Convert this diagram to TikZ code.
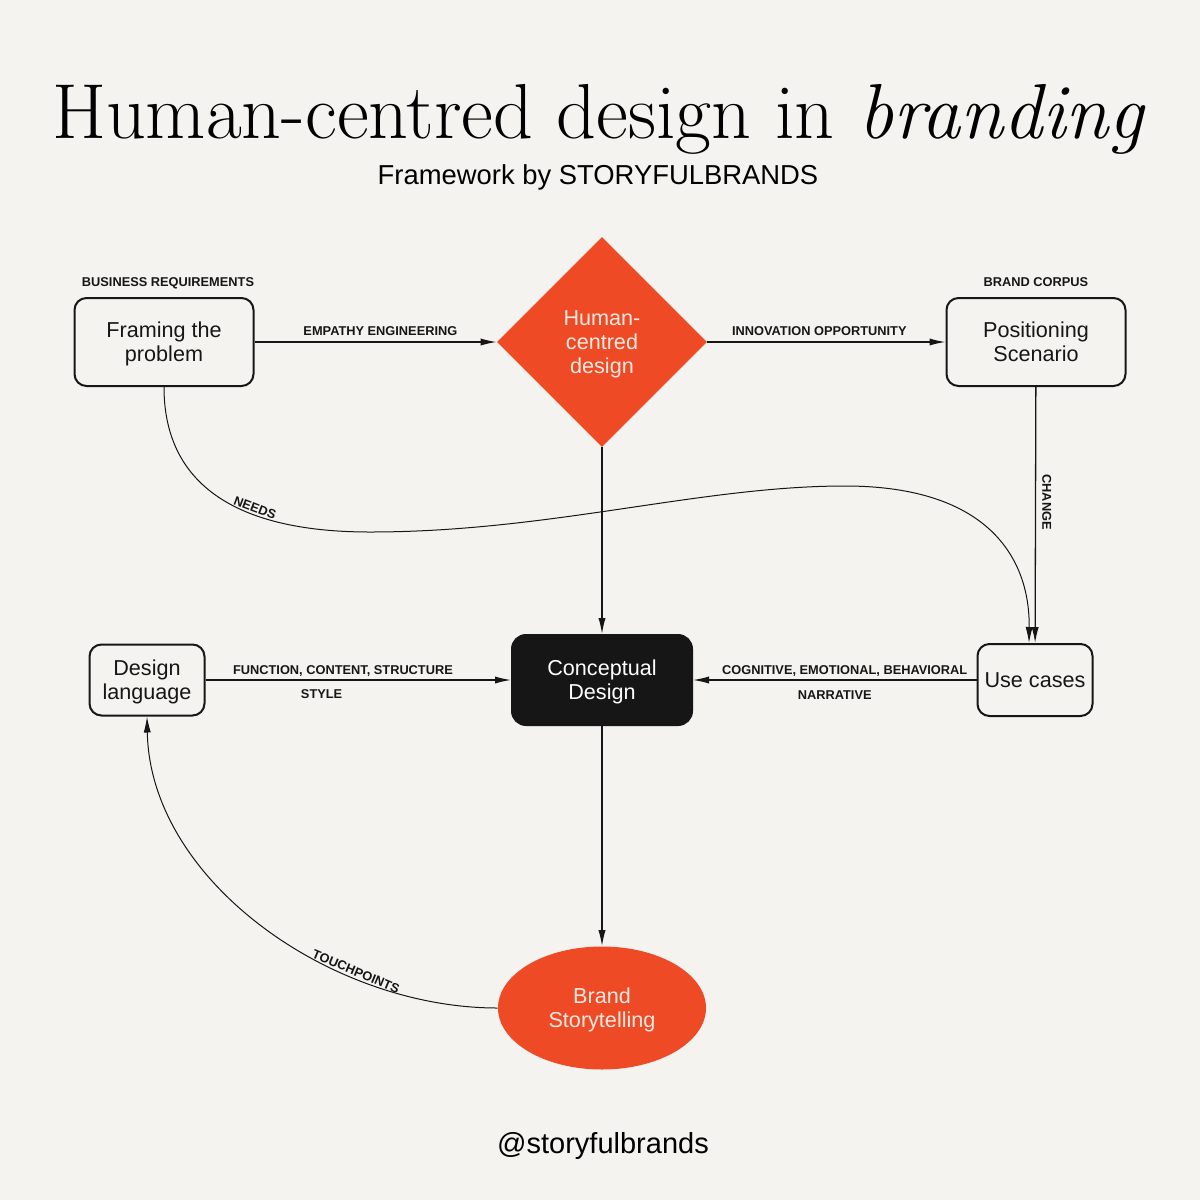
\documentclass[tikz,border=0pt]{standalone}
\usepackage{fontspec}
\setsansfont{Liberation Sans}
\usetikzlibrary{positioning,shapes.geometric,arrows.meta}
\definecolor{paper}{HTML}{F4F3EF}
\definecolor{brandred}{HTML}{EE4A25}
\definecolor{ink}{HTML}{161616}
\definecolor{cream}{HTML}{FBEAE2}

\begin{document}
\begin{tikzpicture}[x=0.5pt, y=-0.5pt,
  box/.style={draw=ink, line width=1pt, rounded corners=6pt, align=center, text=ink, inner sep=0pt,
    text depth=-5.5pt, font=\sffamily\fontsize{10.8}{12}\selectfont},
  core/.style={box, fill=ink, text=white, rounded corners=7pt},
  hub/.style={diamond, aspect=1, fill=brandred, minimum size=105pt, inner sep=0pt, align=center,
    text depth=-5.5pt, text=cream, font=\sffamily\fontsize{10.8}{12}\selectfont},
  story/.style={ellipse, fill=brandred, minimum width=104pt, minimum height=61.5pt, inner sep=0pt,
    text depth=-5.5pt, align=center, text=cream, font=\sffamily\fontsize{10.8}{12}\selectfont},
  lbl/.style={font=\sffamily\bfseries\fontsize{6.4}{7}\selectfont, text=ink, inner sep=1.5pt},
  link/.style={draw=ink, line width=0.65pt, -{Latex[length=8pt,width=3.6pt]}},
  curvelink/.style={link, line width=0.5pt}]
  % canvas
  \fill[paper] (0,0) rectangle (1200,1200);
  \useasboundingbox (0,0) rectangle (1200,1200);
  % heading
  \node[anchor=base, font=\fontsize{39}{43}\selectfont] (title) at (599,138)
    {Human-centred design in \textit{branding}};
  \node[anchor=base, font=\sffamily\fontsize{13.7}{16}\selectfont] (sub) at (598,184)
    {Framework by STORYFULBRANDS};
  % nodes
  \node[box, minimum width=89.5pt, minimum height=44pt] (fr)  at (164,342)  {Framing the\\problem};
  \node[hub]                                           (hcd) at (602,342)  {Human-\\centred\\design};
  \node[box, minimum width=89.5pt, minimum height=44pt] (pos) at (1036,342) {Positioning\\Scenario};
  \node[box, minimum width=57.5pt, minimum height=35.5pt] (dl) at (147,680)  {Design\\language};
  \node[core, minimum width=90pt, minimum height=45pt]  (cd)  at (602,680)  {Conceptual\\Design};
  \node[box, minimum width=57.5pt, minimum height=36pt] (uc)  at (1035,680) {Use cases};
  \node[story]                                         (bs)  at (602,1008) {Brand\\Storytelling};
  % headers
  \node[lbl, above=2.5pt of fr, xshift=2pt] {BUSINESS REQUIREMENTS};
  \node[lbl, above=3.5pt of pos] {BRAND CORPUS};
  % edges
  \draw[link] (fr) -- node[lbl, above=1.5pt, pos=0.52] {EMPATHY ENGINEERING} (hcd);
  \draw[link] (hcd) -- node[lbl, above=1.5pt, pos=0.47] {INNOVATION OPPORTUNITY} (pos);
  \draw[link] (hcd) -- (cd);
  \draw[link] (pos) -- node[lbl, rotate=-90, anchor=south, pos=0.45, inner sep=3pt] {CHANGE} (uc);
  \draw[link] (dl) -- node[lbl, above=0pt, pos=0.45] {FUNCTION, CONTENT, STRUCTURE}
                      node[lbl, below=3pt, pos=0.38] {STYLE} (cd);
  \draw[link] (uc) -- node[lbl, above=0pt, pos=0.465] {COGNITIVE, EMOTIONAL, BEHAVIORAL}
                      node[lbl, below=3.5pt, pos=0.5] {NARRATIVE} (cd);
  \draw[link] (cd) -- (bs);
  % curved edges
  \draw[curvelink] (fr.south) .. controls (164,480) and (230,532) .. node[lbl, sloped, above, pos=0.66, inner sep=1pt] {NEEDS} (370,532)
    .. controls (550,532) and (700,486) .. (845,486)
    .. controls (990,486) and (1030,560) .. ([xshift=-3pt]uc.north);
  \draw[curvelink] (bs.west) .. controls (330,1008) and (150,880) .. node[lbl, sloped, above, pos=0.29, inner sep=1pt] {TOUCHPOINTS} (dl.south);
  % footer
  \node[font=\sffamily\fontsize{14.5}{17}\selectfont] (handle) at (603,1146) {@storyfulbrands};
\end{tikzpicture}
\end{document}
